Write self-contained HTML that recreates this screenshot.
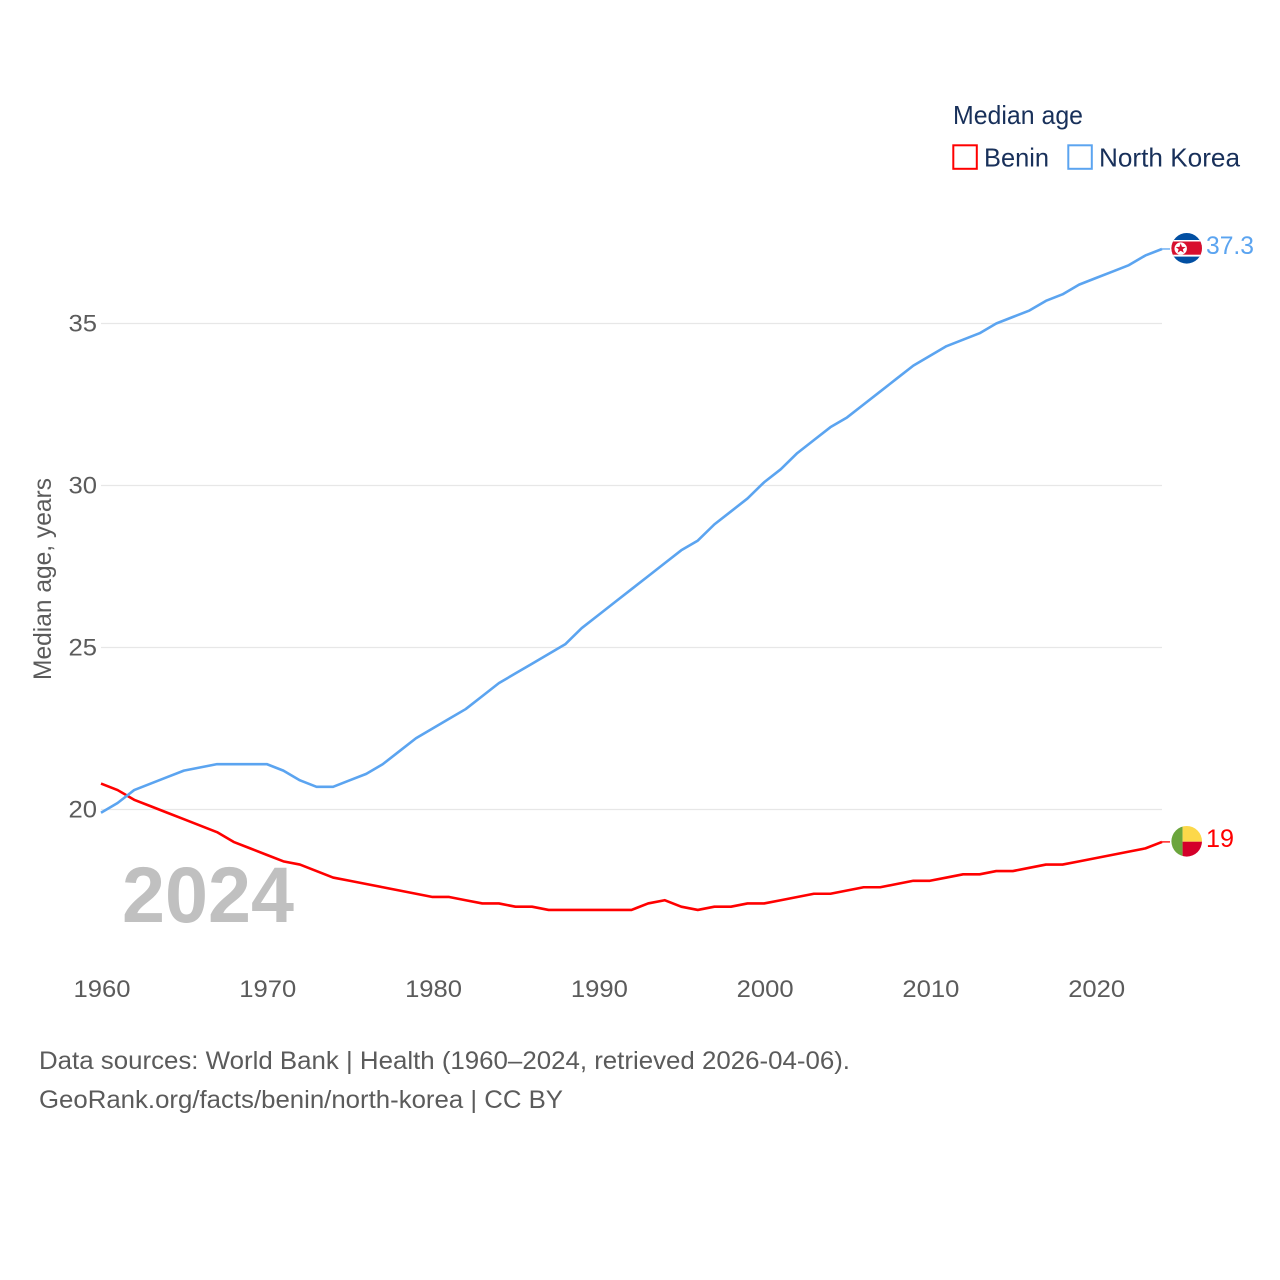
<!DOCTYPE html>
<html lang="en">
<head>
<meta charset="utf-8">
<title>Median age: Benin and North Korea</title>
<style>
html,body{margin:0;padding:0;background:#fff;}
svg{display:block;font-family:"Liberation Sans",sans-serif;}
</style>
</head>
<body>
<svg id="chart" xmlns="http://www.w3.org/2000/svg" width="1280" height="1280" viewBox="0 0 1280 1280">
  <defs>
    <clipPath id="flag-clip-nk"><circle cx="1186.7" cy="248.3" r="15.3"/></clipPath>
    <clipPath id="flag-clip-bj"><circle cx="1186.7" cy="841.3" r="15.3"/></clipPath>
  </defs>
  <rect x="0" y="0" width="1280" height="1280" fill="#ffffff"/>
  <g id="grid"></g>
  <g id="y-ticks"></g>
  <g id="x-ticks"></g>
  <text transform="translate(51,680) rotate(-90)" font-size="25" fill="#5b5b5b" textLength="202" lengthAdjust="spacingAndGlyphs">Median age, years</text>
  <text x="122" y="922" font-size="79" font-weight="700" fill="#c0c0c0" textLength="172" lengthAdjust="spacingAndGlyphs">2024</text>
  <g id="series"></g>

  <g clip-path="url(#flag-clip-nk)">
    <rect x="1171" y="232" width="31" height="33" fill="#024fa2"/>
    <rect x="1171" y="240" width="31" height="16.6" fill="#ffffff"/>
    <rect x="1171" y="241.5" width="31" height="13.2" fill="#d80f2e"/>
    <circle cx="1180.7" cy="248.6" r="6.2" fill="#ffffff"/>
    <polygon points="1180.7,243.4 1182,246.9 1185.7,247 1182.8,249.3 1183.8,252.8 1180.7,250.8 1177.6,252.8 1178.6,249.3 1175.7,247 1179.4,246.9" fill="#d80f2e"/>
  </g>
  <g clip-path="url(#flag-clip-bj)">
    <rect x="1171" y="825" width="11.6" height="33" fill="#6ba53c"/>
    <rect x="1182.6" y="825" width="20" height="16.7" fill="#fcd84a"/>
    <rect x="1182.6" y="841.7" width="20" height="16.3" fill="#d4002a"/>
  </g>
  <text x="1206" y="254" font-size="25" fill="#5ba4f0" textLength="48" lengthAdjust="spacingAndGlyphs">37.3</text>
  <text x="1206" y="847" font-size="25" fill="#ff0000" textLength="28" lengthAdjust="spacingAndGlyphs">19</text>

  <g>
    <text x="953" y="124" font-size="26" fill="#18305a" textLength="130" lengthAdjust="spacingAndGlyphs">Median age</text>
    <g>
      <rect x="953.3" y="145.3" width="23.5" height="23.5" fill="none" stroke="#ff0000" stroke-width="2"/>
      <text x="984" y="166.5" font-size="26" fill="#18305a" textLength="65" lengthAdjust="spacingAndGlyphs">Benin</text>
    </g>
    <g>
      <rect x="1068.3" y="145.3" width="23.5" height="23.5" fill="none" stroke="#5ba4f0" stroke-width="2"/>
      <text x="1099" y="166.5" font-size="26" fill="#18305a" textLength="141" lengthAdjust="spacingAndGlyphs">North Korea</text>
    </g>
  </g>

  <text x="39" y="1069" font-size="25" fill="#5b5b5b" textLength="811" lengthAdjust="spacingAndGlyphs">Data sources: World Bank | Health (1960–2024, retrieved 2026-04-06).</text>
  <text x="39" y="1108" font-size="25" fill="#5b5b5b" textLength="524" lengthAdjust="spacingAndGlyphs">GeoRank.org/facts/benin/north-korea | CC BY</text>
</svg>
<script>
const years = [1960,1961,1962,1963,1964,1965,1966,1967,1968,1969,1970,1971,1972,1973,1974,1975,1976,1977,1978,1979,1980,1981,1982,1983,1984,1985,1986,1987,1988,1989,1990,1991,1992,1993,1994,1995,1996,1997,1998,1999,2000,2001,2002,2003,2004,2005,2006,2007,2008,2009,2010,2011,2012,2013,2014,2015,2016,2017,2018,2019,2020,2021,2022,2023,2024];
const beninValues = [20.8,20.6,20.3,20.1,19.9,19.7,19.5,19.3,19.0,18.8,18.6,18.4,18.3,18.1,17.9,17.8,17.7,17.6,17.5,17.4,17.3,17.3,17.2,17.1,17.1,17.0,17.0,16.9,16.9,16.9,16.9,16.9,16.9,17.1,17.2,17.0,16.9,17.0,17.0,17.1,17.1,17.2,17.3,17.4,17.4,17.5,17.6,17.6,17.7,17.8,17.8,17.9,18.0,18.0,18.1,18.1,18.2,18.3,18.3,18.4,18.5,18.6,18.7,18.8,19.0];
const northKoreaValues = [19.9,20.2,20.6,20.8,21.0,21.2,21.3,21.4,21.4,21.4,21.4,21.2,20.9,20.7,20.7,20.9,21.1,21.4,21.8,22.2,22.5,22.8,23.1,23.5,23.9,24.2,24.5,24.8,25.1,25.6,26.0,26.4,26.8,27.2,27.6,28.0,28.3,28.8,29.2,29.6,30.1,30.5,31.0,31.4,31.8,32.1,32.5,32.9,33.3,33.7,34.0,34.3,34.5,34.7,35.0,35.2,35.4,35.7,35.9,36.2,36.4,36.6,36.8,37.1,37.3];
const yTickLabels = [20,25,30,35];
const xTickLabels = [1960,1970,1980,1990,2000,2010,2020];

const SVG_NS = 'http://www.w3.org/2000/svg';
const xScale = year => 101 + (year - 1960) * (1162 - 101) / 64;
const yScale = value => 809.5 - (value - 20) * 32.4;
const connectorEnd = 1170;

const gridGroup = document.getElementById('grid');
const yTickGroup = document.getElementById('y-ticks');
const xTickGroup = document.getElementById('x-ticks');
const seriesGroup = document.getElementById('series');

yTickLabels.forEach(tick => {
  const line = document.createElementNS(SVG_NS, 'line');
  
  
  line.setAttribute('x1', xScale(1960));
  line.setAttribute('x2', xScale(2024));
  line.setAttribute('y1', yScale(tick));
  line.setAttribute('y2', yScale(tick));
  line.setAttribute('stroke', '#e7e7e7');
  line.setAttribute('stroke-width', '1.2');
  gridGroup.appendChild(line);

  const label = document.createElementNS(SVG_NS, 'text');
  
  
  label.setAttribute('x', 97);
  label.setAttribute('y', yScale(tick) + 8);
  label.setAttribute('text-anchor', 'end');
  label.setAttribute('font-size', '24.5');
  label.setAttribute('fill', '#5b5b5b');
  label.setAttribute('textLength', '28.5');
  label.setAttribute('lengthAdjust', 'spacingAndGlyphs');
  label.textContent = tick;
  yTickGroup.appendChild(label);
});

xTickLabels.forEach(tick => {
  const label = document.createElementNS(SVG_NS, 'text');
  
  
  label.setAttribute('x', xScale(tick) + 1);
  label.setAttribute('y', 997);
  label.setAttribute('text-anchor', 'middle');
  label.setAttribute('font-size', '24.5');
  label.setAttribute('fill', '#5b5b5b');
  label.setAttribute('textLength', '57');
  label.setAttribute('lengthAdjust', 'spacingAndGlyphs');
  label.textContent = tick;
  xTickGroup.appendChild(label);
});

function linePoints(values) {
  return values.map((value, i) => xScale(years[i]).toFixed(2) + ',' + yScale(value).toFixed(2)).join(' ');
}

const beninLine = document.createElementNS(SVG_NS, 'polyline');


beninLine.setAttribute('points', linePoints(beninValues));
beninLine.setAttribute('fill', 'none');
beninLine.setAttribute('stroke', '#ff0000');
beninLine.setAttribute('stroke-width', '2.6');
beninLine.setAttribute('stroke-linejoin', 'round');
seriesGroup.appendChild(beninLine);

const koreaLine = document.createElementNS(SVG_NS, 'polyline');


koreaLine.setAttribute('points', linePoints(northKoreaValues));
koreaLine.setAttribute('fill', 'none');
koreaLine.setAttribute('stroke', '#5ba4f0');
koreaLine.setAttribute('stroke-width', '2.6');
koreaLine.setAttribute('stroke-linejoin', 'round');
seriesGroup.appendChild(koreaLine);

const beninConnector = document.createElementNS(SVG_NS, 'line');


beninConnector.setAttribute('x1', xScale(2024));
beninConnector.setAttribute('x2', connectorEnd);
beninConnector.setAttribute('y1', yScale(beninValues[beninValues.length - 1]));
beninConnector.setAttribute('y2', yScale(beninValues[beninValues.length - 1]));
beninConnector.setAttribute('stroke', '#ff0000');
beninConnector.setAttribute('stroke-width', '1.3');
seriesGroup.appendChild(beninConnector);

const koreaConnector = document.createElementNS(SVG_NS, 'line');


koreaConnector.setAttribute('x1', xScale(2024));
koreaConnector.setAttribute('x2', connectorEnd);
koreaConnector.setAttribute('y1', yScale(northKoreaValues[northKoreaValues.length - 1]));
koreaConnector.setAttribute('y2', yScale(northKoreaValues[northKoreaValues.length - 1]));
koreaConnector.setAttribute('stroke', '#5ba4f0');
koreaConnector.setAttribute('stroke-width', '1.3');
seriesGroup.appendChild(koreaConnector);
</script>
</body>
</html>
